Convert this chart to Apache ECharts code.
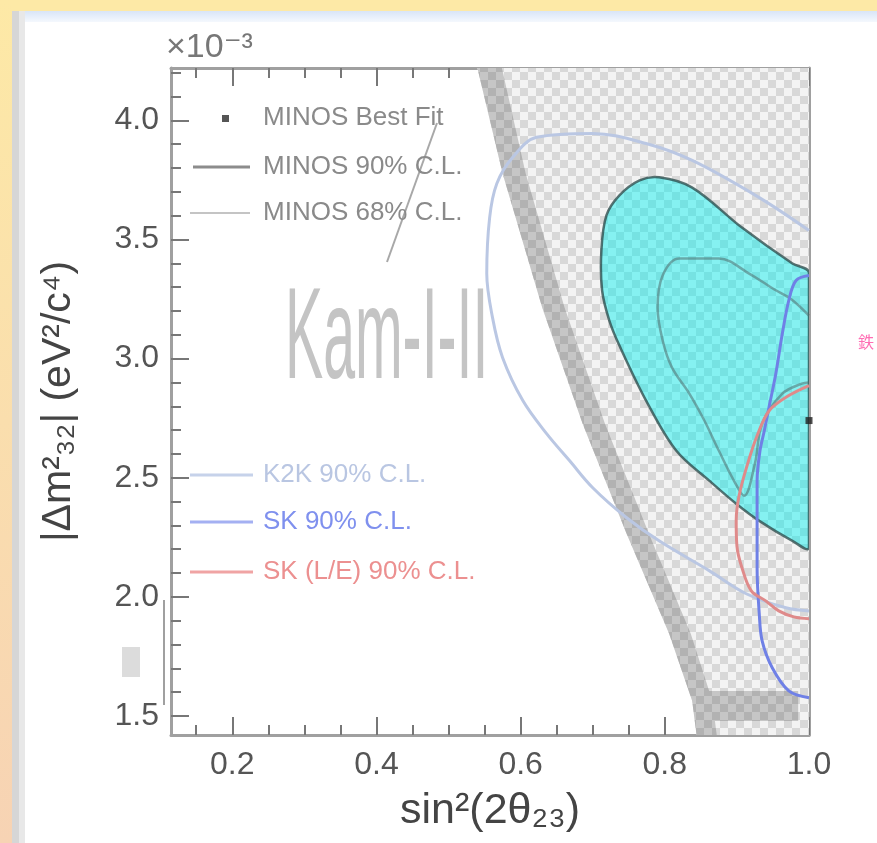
<!DOCTYPE html>
<html>
<head>
<meta charset="utf-8">
<script src="https://cdn.jsdelivr.net/npm/echarts@6/dist/echarts.min.js"></script>
<style>
html,body{margin:0;padding:0;background:#fff;}
#chart{width:877px;height:843px;}
</style>
</head>
<body>
<div id="chart"></div>
<script>
// ---- axis ranges & ticks ----
const xRange = [0.115, 1.0];
const yRange = [1.42, 4.22];
const xMajorTicks = [0.2, 0.4, 0.6, 0.8, 1.0];
const xMinorTicks = [0.15, 0.25, 0.3, 0.35, 0.45, 0.5, 0.55, 0.65, 0.7, 0.75, 0.85, 0.9, 0.95];
const yMajorTicks = [1.5, 2.0, 2.5, 3.0, 3.5, 4.0];
const yMinorTicks = [1.6, 1.7, 1.8, 1.9, 2.1, 2.2, 2.3, 2.4, 2.6, 2.7, 2.8, 2.9, 3.1, 3.2, 3.3, 3.4, 3.6, 3.7, 3.8, 3.9, 4.1, 4.2];

// ---- Kamiokande allowed region (x = sin^2(2θ), y = |Δm²| in 1e-3 eV²) ----
const kamRegion = [[0.540,4.22],[1.0,4.22],[1.0,1.42],[0.844,1.42],[0.838,1.563],[0.806,1.845],[0.747,2.265],[0.686,2.727],[0.630,3.214],[0.575,3.777]];
const kamBand = [[0.540,4.22],[0.575,3.777],[0.630,3.214],[0.686,2.727],[0.747,2.265],[0.806,1.845],[0.838,1.563],[0.844,1.42],
                 [0.872,1.42],[0.866,1.563],[0.836,1.845],[0.778,2.265],[0.717,2.727],[0.661,3.214],[0.607,3.777],[0.574,4.22]];
const kamBottomBand = [[0.836,1.605],[0.985,1.605],[0.985,1.479],[0.843,1.479]];

// ---- MINOS 90% C.L. (filled) ----
const minos90 = [[1.0,3.361],[0.977,3.399],[0.907,3.550],[0.838,3.718],[0.792,3.761],[0.765,3.748],[0.737,3.685],[0.719,3.601],
                 [0.712,3.454],[0.713,3.286],[0.723,3.160],[0.737,3.055],[0.774,2.824],[0.816,2.613],[0.862,2.487],[0.899,2.391],
                 [0.931,2.319],[0.977,2.235],[1.0,2.206],[1.0,2.6],[1.0,3.0]];
// ---- MINOS 68% C.L. ----
const minos68 = [[1.0,3.18],[0.975,3.25],[0.952,3.29],[0.917,3.357],[0.875,3.42],[0.820,3.42],[0.797,3.349],[0.790,3.214],
                 [0.797,3.076],[0.810,2.962],[0.834,2.853],[0.855,2.739],[0.875,2.613],[0.896,2.487],[0.910,2.424],
                 [0.925,2.56],[0.935,2.727],[0.963,2.853],[0.99,2.895],[1.0,2.90]];
// ---- K2K 90% C.L. ----
const k2k90 = [[1.0,3.538],[0.931,3.676],[0.838,3.832],[0.774,3.903],[0.700,3.945],[0.622,3.929],[0.589,3.845],[0.567,3.735],
               [0.557,3.592],[0.553,3.357],[0.561,3.172],[0.575,3.004],[0.603,2.824],[0.636,2.685],[0.668,2.571],[0.700,2.458],
               [0.747,2.332],[0.792,2.235],[0.862,2.109],[0.913,2.013],[0.968,1.954],[1.0,1.941]];
// ---- SK 90% C.L. ----
const sk90 = [[1.0,3.349],[0.982,3.328],[0.972,3.244],[0.963,3.105],[0.954,2.937],[0.945,2.803],[0.938,2.697],[0.932,2.613],
              [0.928,2.487],[0.928,2.307],[0.928,2.122],[0.931,1.929],[0.935,1.815],[0.949,1.702],[0.972,1.605],[1.0,1.576]];
// ---- SK (L/E) 90% C.L. ----
const skLE90 = [[1.0,2.887],[0.972,2.845],[0.945,2.782],[0.928,2.676],[0.914,2.550],[0.903,2.424],[0.899,2.319],[0.900,2.214],
                [0.907,2.122],[0.920,2.025],[0.940,1.983],[0.958,1.941],[0.979,1.916],[1.0,1.908]];
// ---- MINOS best fit ----
const minosBest = [[1.0, 2.74]];

const legendLabels = ['MINOS Best Fit','MINOS 90% C.L.','MINOS 68% C.L.','K2K 90% C.L.','SK 90% C.L.','SK (L/E) 90% C.L.'];

const FONT = "'Liberation Sans', Arial, 'DejaVu Sans', sans-serif";

function checker(c1, c2, s) {
  const cv = document.createElement('canvas');
  cv.width = cv.height = 2 * s;
  const g = cv.getContext('2d');
  g.fillStyle = c1; g.fillRect(0, 0, 2 * s, 2 * s);
  g.fillStyle = c2; g.fillRect(0, 0, s, s); g.fillRect(s, s, s, s);
  return cv;
}
const lightChecker = {image: checker('#f3f3f3', '#d8d8d8', 8), repeat: 'repeat'};
const darkChecker = {image: checker('#c6c6c6', '#b2b2b2', 8), repeat: 'repeat'};

function polySeries(name, pts, style, smooth, z) {
  return {
    type: 'custom', name, z, clip: true, silent: true, data: pts,
    renderItem: function (params, api) {
      if (params.dataIndex !== 0) return null;
      const lo = api.coord([xRange[0], yRange[1]]);
      const hi = api.coord([xRange[1], yRange[0]]);
      return {
        type: 'polygon',
        shape: {points: pts.map(p => api.coord(p)), smooth: smooth, smoothConstraint: [lo, hi]},
        style: style
      };
    }
  };
}
function lineSeries(name, pts, color, width, z) {
  return {type: 'line', name, data: pts, smooth: 0.35, showSymbol: false, symbol: 'none',
          lineStyle: {color, width}, z, silent: true};
}

const tickStyle = {color: '#777', width: 2};
function xAx(pos, ticks, len, labels, line) {
  return {type: 'value', position: pos, min: xRange[0], max: xRange[1], splitLine: {show: false},
    axisLine: {show: line, onZero: false, lineStyle: {color: '#a0a0a0', width: 3}},
    axisTick: {show: true, inside: true, length: len, customValues: ticks, lineStyle: tickStyle},
    axisLabel: labels ? {customValues: ticks, formatter: v => v.toFixed(1), fontSize: 32, color: '#555', margin: 14, fontFamily: FONT}
                      : {show: false}};
}
function yAx(pos, ticks, len, labels, line) {
  return {type: 'value', position: pos, min: yRange[0], max: yRange[1], splitLine: {show: false},
    axisLine: {show: line, onZero: false, lineStyle: {color: '#a0a0a0', width: 3}},
    axisTick: {show: true, inside: true, length: len, customValues: ticks, lineStyle: tickStyle},
    axisLabel: labels ? {customValues: ticks, formatter: v => v.toFixed(1), fontSize: 32, color: '#555', margin: 12, fontFamily: FONT}
                      : {show: false}};
}

const xAxes = [xAx('bottom', xMajorTicks, 18, true, true), xAx('bottom', xMinorTicks, 10, false, false),
               xAx('top', xMajorTicks, 18, false, true), xAx('top', xMinorTicks, 10, false, false)];
Object.assign(xAxes[0], {name: 'sin²(2θ₂₃)', nameLocation: 'middle', nameGap: 55,
  nameTextStyle: {fontSize: 43, color: '#444', fontFamily: FONT}});
const yAxes = [yAx('left', yMajorTicks, 18, true, true), yAx('left', yMinorTicks, 10, false, false),
               yAx('right', yMajorTicks, 18, false, true), yAx('right', yMinorTicks, 10, false, false)];
Object.assign(yAxes[0], {name: '|Δm²₃₂| (eV²/c⁴)', nameLocation: 'middle', nameGap: 92, nameRotate: 90,
  nameTextStyle: {fontSize: 41, color: '#444', fontFamily: FONT}});

const legendX = 263;
const legendYs = [118, 167, 213, 475, 522, 572];
const legendTextColors = ['#8a8a8a', '#8a8a8a', '#8a8a8a', '#b9c6e2', '#7f90ee', '#ec9090'];

const graphics = [
  // page background strips
  {type: 'rect', z: -10, shape: {x: 0, y: 0, width: 877, height: 11}, style: {fill: '#fde9a6'}},
  {type: 'rect', z: -10, shape: {x: 25, y: 11, width: 852, height: 11},
   style: {fill: {type: 'linear', x: 0, y: 0, x2: 0, y2: 1, colorStops: [{offset: 0, color: '#d9e5f7'}, {offset: 1, color: '#f4f8fd'}]}}},
  {type: 'rect', z: -10, shape: {x: 0, y: 0, width: 12, height: 843},
   style: {fill: {type: 'linear', x: 0, y: 0, x2: 0, y2: 1, colorStops: [{offset: 0, color: '#fde9a6'}, {offset: 1, color: '#f7d3b4'}]}}},
  {type: 'rect', z: -10, shape: {x: 12, y: 11, width: 7, height: 832}, style: {fill: '#d6d6d6'}},
  {type: 'rect', z: -10, shape: {x: 19, y: 11, width: 6, height: 832}, style: {fill: '#e8e8e8'}},
  // exponent
  {type: 'text', z: 50, x: 166, y: 48, style: {text: '×10⁻³', fontSize: 34, fill: '#777', fontFamily: FONT, verticalAlign: 'middle'}},
  // Kam label
  {type: 'text', z: 50, x: 285, y: 342, scaleX: 0.44,
   style: {text: 'Kam-I-II', fontSize: 130, fill: '#c4c4c4', fontFamily: FONT, verticalAlign: 'middle'}},
  // pointer line
  {type: 'line', z: 50, shape: {x1: 437, y1: 123, x2: 387, y2: 262}, style: {stroke: '#a8a8a8', lineWidth: 2}},
  // small marks left of axis
  {type: 'rect', z: 50, shape: {x: 122, y: 647, width: 18, height: 30}, style: {fill: '#dcdcdc'}},
  {type: 'line', z: 50, shape: {x1: 164, y1: 600, x2: 164, y2: 705}, style: {stroke: '#a0a0a0', lineWidth: 2}},
  // stray glyph at right edge
  {type: 'text', z: 50, x: 858, y: 342, style: {text: '鉄', fontSize: 16, fill: '#ff6eb4', fontFamily: "'Noto Sans CJK JP'", verticalAlign: 'middle'}},
  // legend symbols
  {type: 'rect', z: 50, shape: {x: 222, y: 115, width: 7, height: 7}, style: {fill: '#555'}},
  {type: 'line', z: 50, shape: {x1: 193, y1: 167, x2: 250, y2: 167}, style: {stroke: '#8c8c8c', lineWidth: 3}},
  {type: 'line', z: 50, shape: {x1: 190, y1: 213, x2: 250, y2: 213}, style: {stroke: '#c4c4c4', lineWidth: 2}},
  {type: 'line', z: 50, shape: {x1: 190, y1: 475, x2: 253, y2: 475}, style: {stroke: '#c6d2ea', lineWidth: 3}},
  {type: 'line', z: 50, shape: {x1: 190, y1: 522, x2: 253, y2: 522}, style: {stroke: '#a4b0f2', lineWidth: 3}},
  {type: 'line', z: 50, shape: {x1: 190, y1: 572, x2: 253, y2: 572}, style: {stroke: '#f0a4a4', lineWidth: 3}}
];
legendLabels.forEach((t, i) => {
  graphics.push({type: 'text', z: 50, x: legendX, y: legendYs[i],
    style: {text: t, fontSize: 26, fill: legendTextColors[i], fontFamily: FONT, verticalAlign: 'middle'}});
});

const option = {
  backgroundColor: '#ffffff',
  animation: false,
  grid: {left: 171, right: 68, top: 68, bottom: 108, containLabel: false},
  xAxis: xAxes,
  yAxis: yAxes,
  graphic: graphics,
  series: [
    polySeries('Kam region', kamRegion, {fill: lightChecker}, 0, 1),
    polySeries('Kam band', kamBand, {fill: darkChecker}, 0, 2),
    polySeries('Kam bottom band', kamBottomBand, {fill: darkChecker}, 0, 2),
    polySeries('MINOS 90% C.L.', minos90, {fill: 'rgba(0,240,240,0.45)', stroke: 'rgba(40,70,70,0.75)', lineWidth: 2.5}, 0.35, 3),
    lineSeries('MINOS 68% C.L.', minos68, 'rgba(80,110,110,0.55)', 2.5, 4),
    lineSeries('K2K 90% C.L.', k2k90, '#bac7e3', 3, 5),
    lineSeries('SK 90% C.L.', sk90, '#6f80e6', 3, 6),
    lineSeries('SK (L/E) 90% C.L.', skLE90, '#df8a8a', 3, 7),
    {type: 'scatter', name: 'MINOS Best Fit', data: minosBest, symbol: 'rect', symbolSize: 7,
     itemStyle: {color: '#222'}, z: 10, clip: false, silent: true}
  ]
};

const chart = echarts.init(document.getElementById('chart'), null, {renderer: 'canvas'});
chart.setOption(option);
</script>
</body>
</html>
